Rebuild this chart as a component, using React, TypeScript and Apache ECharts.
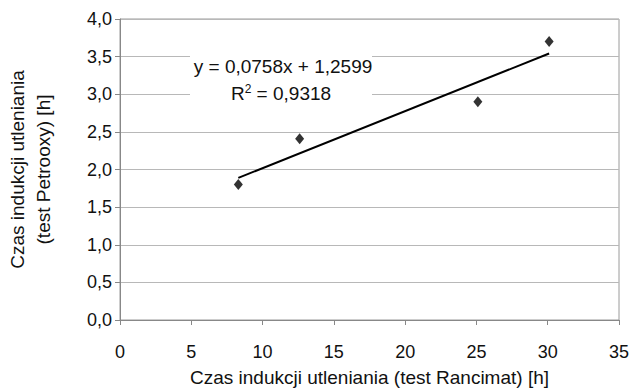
import React, { useEffect, useRef } from "react";
import * as echarts from "echarts";

const rancimat = [8.3, 12.6, 25.1, 30.1];
const petrooxy = [1.8, 2.41, 2.9, 3.7];
const slope = 0.0758;
const intercept = 1.2599;
const equationText = "y = 0,0758x + 1,2599";
const r2Text = "0,9318";
const xTitle = "Czas indukcji utleniania (test Rancimat) [h]";
const yTitle = "Czas indukcji utleniania\n(test Petrooxy) [h]";

const fmt = (v: number) => v.toFixed(1).replace(".", ",");

export default function App() {
  const ref = useRef<HTMLDivElement>(null);
  useEffect(() => {
    if (!ref.current) return;
    const chart = echarts.init(ref.current, null, { renderer: "svg" });
    const xMin = Math.min(...rancimat);
    const xMax = Math.max(...rancimat);
    const trend = [
      [xMin, slope * xMin + intercept],
      [xMax, slope * xMax + intercept],
    ];
    const font = "Liberation Sans, Arial, sans-serif";
    chart.setOption({
      animation: false,
      textStyle: { fontFamily: font },
      grid: {
        left: 120,
        right: 14,
        top: 19,
        bottom: 71,
        show: true,
        borderColor: "#9a9a9a",
        borderWidth: 1,
        containLabel: false,
        outerBoundsMode: "none",
      },
      xAxis: {
        type: "value",
        min: 0,
        max: 35,
        interval: 5,
        name: xTitle,
        nameLocation: "middle",
        nameGap: 48,
        nameTextStyle: { fontSize: 19, color: "#111", fontFamily: font },
        axisLine: { show: true, lineStyle: { color: "#888" } },
        axisTick: { show: true, length: 5, lineStyle: { color: "#888" } },
        axisLabel: { fontSize: 18, color: "#111", margin: 23, fontFamily: font },
        splitLine: { show: false },
      },
      yAxis: {
        type: "value",
        min: 0,
        max: 4,
        interval: 0.5,
        name: yTitle,
        nameLocation: "middle",
        nameGap: 64,
        nameTextStyle: { fontSize: 19, color: "#111", lineHeight: 26, fontFamily: font },
        axisLine: { show: true, lineStyle: { color: "#888" } },
        axisTick: { show: true, length: 5, lineStyle: { color: "#888" } },
        axisLabel: {
          fontSize: 18,
          color: "#111",
          margin: 8,
          fontFamily: font,
          formatter: (v: number) => fmt(v),
        },
        splitLine: { show: true, lineStyle: { color: "#b8b8b8", width: 1 } },
      },
      series: [
        {
          type: "line",
          data: trend,
          symbol: "none",
          lineStyle: { color: "#000", width: 2 },
          z: 3,
        },
        {
          type: "scatter",
          data: rancimat.map((x, i) => [x, petrooxy[i]]),
          symbol: "diamond",
          symbolSize: [9, 11],
          itemStyle: { color: "#000" },
          z: 4,
        },
      ],
      graphic: [
        {
          type: "rect",
          shape: { x: 190, y: 50, width: 182, height: 56 },
          style: { fill: "#fff" },
          z: 10,
        },
        {
          type: "text",
          x: 283,
          y: 66,
          z: 11,
          style: {
            text: equationText,
            font: `19px ${font}`,
            fill: "#111",
            align: "center",
            verticalAlign: "middle",
          },
        },
        {
          type: "text",
          x: 281,
          y: 93,
          z: 11,
          style: {
            text: "R{sup|2} = " + r2Text,
            font: `19px ${font}`,
            fill: "#111",
            align: "center",
            verticalAlign: "middle",
            rich: {
              sup: { fontSize: 12, verticalAlign: "top", padding: [0, 0, 9, 0], fontFamily: font },
            },
          },
        },
      ],
    });
    return () => chart.dispose();
  }, []);
  return (
    <div
      ref={ref}
      style={{ position: "fixed", left: 0, top: 0, width: 633, height: 391, background: "#fff" }}
    />
  );
}
